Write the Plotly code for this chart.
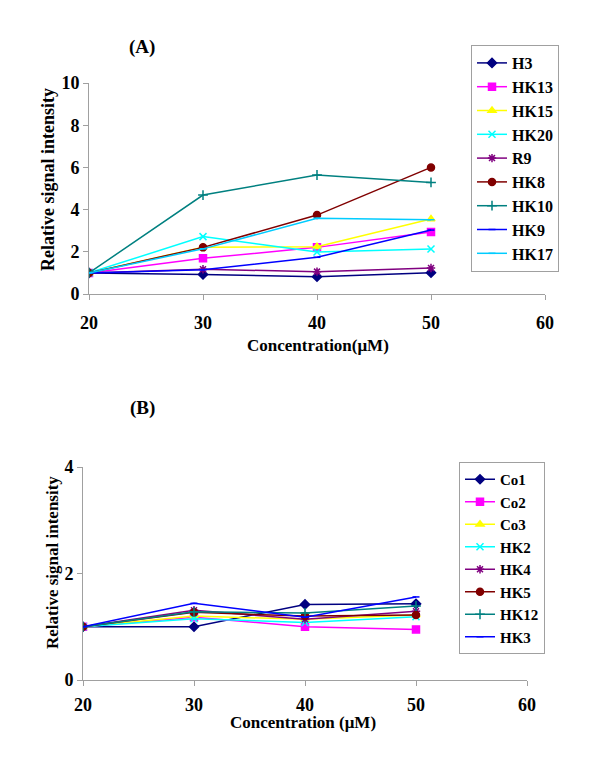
import plotly.graph_objects as go

conc = [20, 30, 40, 50]

# Panel A series
a_names = ["H3", "HK13", "HK15", "HK20", "R9", "HK8", "HK10", "HK9", "HK17"]
H3 = [1.0, 0.93, 0.82, 1.01]
HK13 = [1.0, 1.69, 2.21, 2.94]
HK15 = [1.0, 2.22, 2.24, 3.55]
HK20 = [1.0, 2.72, 1.99, 2.13]
R9 = [1.0, 1.17, 1.06, 1.23]
HK8 = [1.0, 2.21, 3.74, 6.0]
HK10 = [1.0, 4.69, 5.64, 5.29]
HK9 = [1.0, 1.15, 1.74, 3.03]
HK17 = [1.0, 2.14, 3.59, 3.52]
a_values = [H3, HK13, HK15, HK20, R9, HK8, HK10, HK9, HK17]

# Panel B series
b_names = ["Co1", "Co2", "Co3", "HK2", "HK4", "HK5", "HK12", "HK3"]
Co1 = [1.0, 1.0, 1.42, 1.43]
Co2 = [1.0, 1.18, 1.0, 0.95]
Co3 = [1.0, 1.2, 1.14, 1.22]
HK2 = [1.0, 1.15, 1.08, 1.19]
HK4 = [1.0, 1.31, 1.14, 1.29]
HK5 = [1.0, 1.27, 1.2, 1.22]
HK12 = [1.0, 1.28, 1.26, 1.39]
HK3 = [1.0, 1.44, 1.18, 1.56]
b_values = [Co1, Co2, Co3, HK2, HK4, HK5, HK12, HK3]

x_ticks = [20, 30, 40, 50, 60]

a_colors = ["#000080", "#FF00FF", "#FFFF00", "#00FFFF", "#800080",
            "#800000", "#008080", "#0000FF", "#00CCFF"]
a_symbols = ["diamond", "square", "triangle-up", "x-thin-open", "asterisk-open",
             "circle", "cross-thin-open", "line-ew-open", "line-ew-open"]
b_colors = ["#000080", "#FF00FF", "#FFFF00", "#00FFFF", "#800080",
            "#800000", "#008080", "#0000FF"]
b_symbols = ["diamond", "square", "triangle-up", "x-thin-open", "asterisk-open",
             "circle", "cross-thin-open", "line-ew-open"]

FONT = "Liberation Serif"
fig = go.Figure()


def add_series(names, values, colors, symbols, xa, ya, lg):
    for name, vals, c, s in zip(names, values, colors, symbols):
        size = 5 if s == "line-ew-open" else 7
        fig.add_trace(go.Scatter(
            x=conc, y=vals, name=name, mode="lines+markers",
            line=dict(color=c, width=1.5),
            marker=dict(symbol=s, size=size, color=c, line=dict(color=c, width=1.5)),
            xaxis=xa, yaxis=ya, legend=lg))


add_series(a_names, a_values, a_colors, a_symbols, "x", "y", "legend")
add_series(b_names, b_values, b_colors, b_symbols, "x2", "y2", "legend2")

axis_common = dict(showgrid=False, zeroline=False, showline=True, linecolor="#a0a0a0",
                   linewidth=1, ticks="outside", tickcolor="#a0a0a0", ticklen=5,
                   automargin=False,
                   tickfont=dict(family=FONT, size=18, color="black", weight="bold"))

fig.update_layout(
    width=600, height=763,
    margin=dict(l=0, r=0, t=0, b=0, autoexpand=False),
    paper_bgcolor="white", plot_bgcolor="white",
    font=dict(family=FONT, color="black"),
    xaxis=dict(domain=[89/600, 545/600], range=[20, 60], tickvals=x_ticks,
               anchor="y", ticklabelstandoff=7, **axis_common),
    yaxis=dict(domain=[1-294/763, 1-83/763], range=[0, 10], tickvals=[0, 2, 4, 6, 8, 10],
               anchor="x", **axis_common),
    xaxis2=dict(domain=[83/600, 527/600], range=[20, 60], tickvals=x_ticks,
                anchor="y2", ticklabelstandoff=3, **axis_common),
    yaxis2=dict(domain=[1-680/763, 1-467/763], range=[0, 4], tickvals=[0, 2, 4],
                anchor="x2", **axis_common),
    legend=dict(x=471/600, y=1-45/763, xanchor="left", yanchor="top",
                bordercolor="#a0a0a0", borderwidth=1, bgcolor="white",
                font=dict(family=FONT, size=16, color="black", weight="bold"),
                itemwidth=30),
    legend2=dict(x=459/600, y=1-462/763, xanchor="left", yanchor="top",
                 bordercolor="#a0a0a0", borderwidth=1, bgcolor="white",
                 font=dict(family=FONT, size=15, color="black", weight="bold"),
                 itemwidth=30),
    showlegend=True,
)

ann = [
    dict(text="<b>(A)</b>", x=142/600, y=1-47/763, size=19),
    dict(text="<b>(B)</b>", x=142/600, y=1-408/763, size=19),
    dict(text="<b>Concentration(μM)</b>", x=318/600, y=1-345/763, size=17),
    dict(text="<b>Concentration (μM)</b>", x=303/600, y=1-722/763, size=17),
]
for a in ann:
    fig.add_annotation(xref="paper", yref="paper", showarrow=False,
                       xanchor="center", yanchor="middle",
                       x=a["x"], y=a["y"], text=a["text"],
                       font=dict(family=FONT, size=a["size"], color="black"))
for x, y, s in [(48, 180, 18), (52, 563, 17)]:
    fig.add_annotation(xref="paper", yref="paper", showarrow=False,
                       x=x/600, y=1-y/763, xanchor="center", yanchor="middle",
                       textangle=-90, text="<b>Relative signal intensity</b>",
                       font=dict(family=FONT, size=s, color="black"))

fig.write_html("out.html", config={"displayModeBar": False},
               post_script="document.body.style.margin='0';document.body.style.overflow='hidden';")
